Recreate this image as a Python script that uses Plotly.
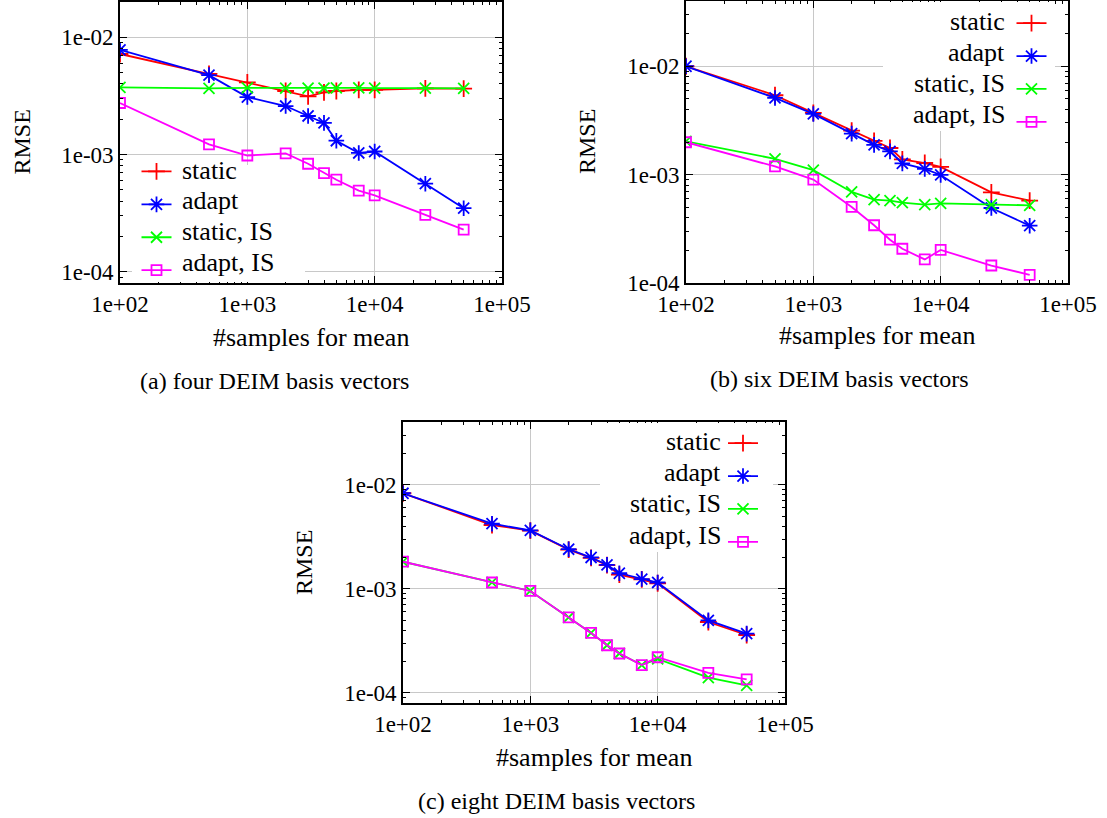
import numpy as np
import plotly.graph_objects as go

# ---------------- data ----------------
samples = [100, 500, 1000, 2000, 3000, 4000, 5000, 7500, 10000, 25000, 50000]
series_names = ["static", "adapt", "static, IS", "adapt, IS"]

# (a) four DEIM basis vectors
a_static = [7.2e-3, 4.88e-3, 4.12e-3, 3.48e-3, 3.13e-3, 3.39e-3, 3.48e-3, 3.56e-3, 3.56e-3, 3.66e-3, 3.64e-3]
a_adapt = [7.8e-3, 4.75e-3, 3.09e-3, 2.59e-3, 2.13e-3, 1.86e-3, 1.31e-3, 1.03e-3, 1.06e-3, 5.63e-4, 3.48e-4]
a_static_is = [3.73e-3, 3.66e-3, 3.70e-3, 3.68e-3, 3.68e-3, 3.68e-3, 3.70e-3, 3.70e-3, 3.68e-3, 3.68e-3, 3.66e-3]
a_adapt_is = [2.75e-3, 1.22e-3, 9.8e-4, 1.02e-3, 8.33e-4, 6.94e-4, 6.09e-4, 4.91e-4, 4.48e-4, 3.05e-4, 2.28e-4]

# (b) six DEIM basis vectors
b_static = [1.0e-2, 5.4e-3, 3.71e-3, 2.55e-3, 2.05e-3, 1.76e-3, 1.38e-3, 1.28e-3, 1.18e-3, 6.87e-4, 5.75e-4]
b_adapt = [1.0e-2, 5.1e-3, 3.63e-3, 2.39e-3, 1.88e-3, 1.64e-3, 1.27e-3, 1.13e-3, 9.93e-4, 4.92e-4, 3.38e-4]
b_static_is = [2.03e-3, 1.4e-3, 1.1e-3, 6.92e-4, 5.88e-4, 5.75e-4, 5.52e-4, 5.29e-4, 5.44e-4, 5.29e-4, 5.21e-4]
b_adapt_is = [1.99e-3, 1.19e-3, 9.0e-4, 5.03e-4, 3.41e-4, 2.51e-4, 2.07e-4, 1.65e-4, 2.02e-4, 1.45e-4, 1.19e-4]

# (c) eight DEIM basis vectors
c_static = [8.27e-3, 4.1e-3, 3.62e-3, 2.38e-3, 1.98e-3, 1.69e-3, 1.37e-3, 1.23e-3, 1.13e-3, 4.8e-4, 3.6e-4]
c_adapt = [8.27e-3, 4.22e-3, 3.64e-3, 2.40e-3, 2.0e-3, 1.70e-3, 1.41e-3, 1.24e-3, 1.15e-3, 4.97e-4, 3.71e-4]
c_static_is = [1.82e-3, 1.15e-3, 9.53e-4, 5.31e-4, 3.77e-4, 2.87e-4, 2.39e-4, 1.85e-4, 2.12e-4, 1.40e-4, 1.18e-4]
c_adapt_is = [1.82e-3, 1.15e-3, 9.53e-4, 5.31e-4, 3.77e-4, 2.87e-4, 2.39e-4, 1.85e-4, 2.2e-4, 1.56e-4, 1.35e-4]

x_tickvals = [1e2, 1e3, 1e4, 1e5]
x_ticktext = ["1e+02", "1e+03", "1e+04", "1e+05"]
y_tickvals = [1e-4, 1e-3, 1e-2]
y_ticktext = ["1e-04", "1e-03", "1e-02"]

captions = ["(a) four DEIM basis vectors", "(b) six DEIM basis vectors", "(c) eight DEIM basis vectors"]
x_title = "#samples for mean"
y_title = "RMSE"

# ---------------- styles ----------------
W, H = 1107, 818
FONT = "Liberation Serif"
colors = ["#ff0000", "#0000ff", "#00ff00", "#ff00ff"]
symbols = ["cross-thin-open", "asterisk-open", "x-thin-open", "square-open"]
msizes = [12, 13, 11, 10]


def px(p):
    return p / W


def py(p):
    return 1 - p / H


panels = [
    dict(data=[a_static, a_adapt, a_static_is, a_adapt_is],
         xd=(120, 502), yd=(2, 283), yr=(8e-5, 2e-2),
         legend="legend", left_key=True,
         key_rows=[170, 200.7, 231.7, 262.7], key_sym=156.5, key_text=180,
         boxes=[(132, 292, 165, 282), (292, 305, 262, 282)],
         xtitle=(311, 337), ytitle=(21, 142.5), cap=(274, 381)),
    dict(data=[b_static, b_adapt, b_static_is, b_adapt_is],
         xd=(686, 1068), yd=(1, 283), yr=(1e-4, 4e-2),
         legend="legend2", left_key=False,
         key_rows=[21.7, 52.3, 83.3, 115], key_sym=1031.5, key_text=1007,
         boxes=[(883, 1055, 2, 131)],
         xtitle=(877, 335), ytitle=(587, 142), cap=(839, 379)),
    dict(data=[c_static, c_adapt, c_static_is, c_adapt_is],
         xd=(403, 785), yd=(422, 703), yr=(8e-5, 4e-2),
         legend="legend3", left_key=False,
         key_rows=[441.7, 472.7, 504, 535], key_sym=743, key_text=723,
         boxes=[(600, 773, 423, 552)],
         xtitle=(594, 757), ytitle=(303.5, 562.5), cap=(556, 801)),
]

minor_x = [m * 10 ** e for e in range(2, 5) for m in range(2, 10)]
minor_y = [m * 10 ** e for e in range(-5, -1) for m in range(2, 10)]

fig = go.Figure()
annotations = []
shapes = []
layout = {}

for i, p in enumerate(panels):
    k = "" if i == 0 else str(i + 1)
    xa, ya = "x" + k, "y" + k
    for j, series in enumerate(p["data"]):
        fig.add_trace(go.Scatter(
            x=samples, y=series, xaxis=xa, yaxis=ya,
            mode="lines+markers", name="",
            legend=p["legend"],
            line=dict(color=colors[j], width=1.8),
            marker=dict(symbol=symbols[j], size=msizes[j], color=colors[j],
                        line=dict(color=colors[j], width=1.8)),
        ))
    common = dict(
        showline=True, linecolor="black", linewidth=1.6, mirror="allticks",
        ticks="inside", ticklen=7, tickwidth=1.2, tickcolor="black",
        showgrid=True, gridcolor="#c8c8c8", gridwidth=1.2, zeroline=False,
        tickfont=dict(family=FONT, size=23, color="black"),
        automargin=False,
    )
    minor = dict(ticks="inside", ticklen=3.5, tickwidth=1, tickcolor="black", showgrid=False)
    layout["xaxis" + k] = dict(
        type="log", range=[2, 5],
        domain=[px(p["xd"][0]), px(p["xd"][1])],
        anchor=ya, tickvals=x_tickvals, ticktext=x_ticktext,
        minor=dict(minor, tickvals=minor_x), **common,
    )
    layout["yaxis" + k] = dict(
        type="log", range=[np.log10(p["yr"][0]), np.log10(p["yr"][1])],
        domain=[py(p["yd"][1]), py(p["yd"][0])],
        anchor=xa, tickvals=y_tickvals, ticktext=y_ticktext,
        minor=dict(minor, tickvals=minor_y), **common,
    )
    # white key box (hides grid lines behind the key)
    for b in p["boxes"]:
        shapes.append(dict(
            type="rect", xref="paper", yref="paper", layer="above",
            x0=px(b[0]), x1=px(b[1]), y0=py(b[3]), y1=py(b[2]),
            fillcolor="white", line=dict(width=0)))
    # symbol-only legend
    layout[p["legend"]] = dict(
        x=px(p["key_sym"] - 20), xanchor="left",
        y=py(p["key_rows"][0] - 20), yanchor="top",
        bgcolor="rgba(0,0,0,0)", borderwidth=0,
        font=dict(family=FONT, size=23),
        itemwidth=30,
    )
    # key texts
    for j, name in enumerate(series_names):
        annotations.append(dict(
            text=name, xref="paper", yref="paper", showarrow=False,
            x=px(p["key_text"]), y=py(p["key_rows"][j]),
            xanchor="left" if p["left_key"] else "right", yanchor="middle",
            font=dict(family=FONT, size=26, color="black")))
    # axis titles and captions
    annotations.append(dict(text=x_title, xref="paper", yref="paper", showarrow=False,
                            x=px(p["xtitle"][0]), y=py(p["xtitle"][1]),
                            xanchor="center", yanchor="middle",
                            font=dict(family=FONT, size=26, color="black")))
    annotations.append(dict(text=y_title, xref="paper", yref="paper", showarrow=False,
                            x=px(p["ytitle"][0]), y=py(p["ytitle"][1]), textangle=-90,
                            xanchor="center", yanchor="middle",
                            font=dict(family=FONT, size=24, color="black")))
    annotations.append(dict(text=captions[i], xref="paper", yref="paper", showarrow=False,
                            x=px(p["cap"][0]), y=py(p["cap"][1]),
                            xanchor="center", yanchor="middle",
                            font=dict(family=FONT, size=24, color="black")))

fig.update_layout(
    width=W, height=H,
    margin=dict(l=0, r=0, t=0, b=0, autoexpand=False),
    paper_bgcolor="white", plot_bgcolor="white",
    font=dict(family=FONT, color="black"),
    showlegend=True, annotations=annotations, shapes=shapes,
    **layout,
)

fig.write_html("out.html", config={"displayModeBar": False},
               post_script="document.body.style.margin='0';")
